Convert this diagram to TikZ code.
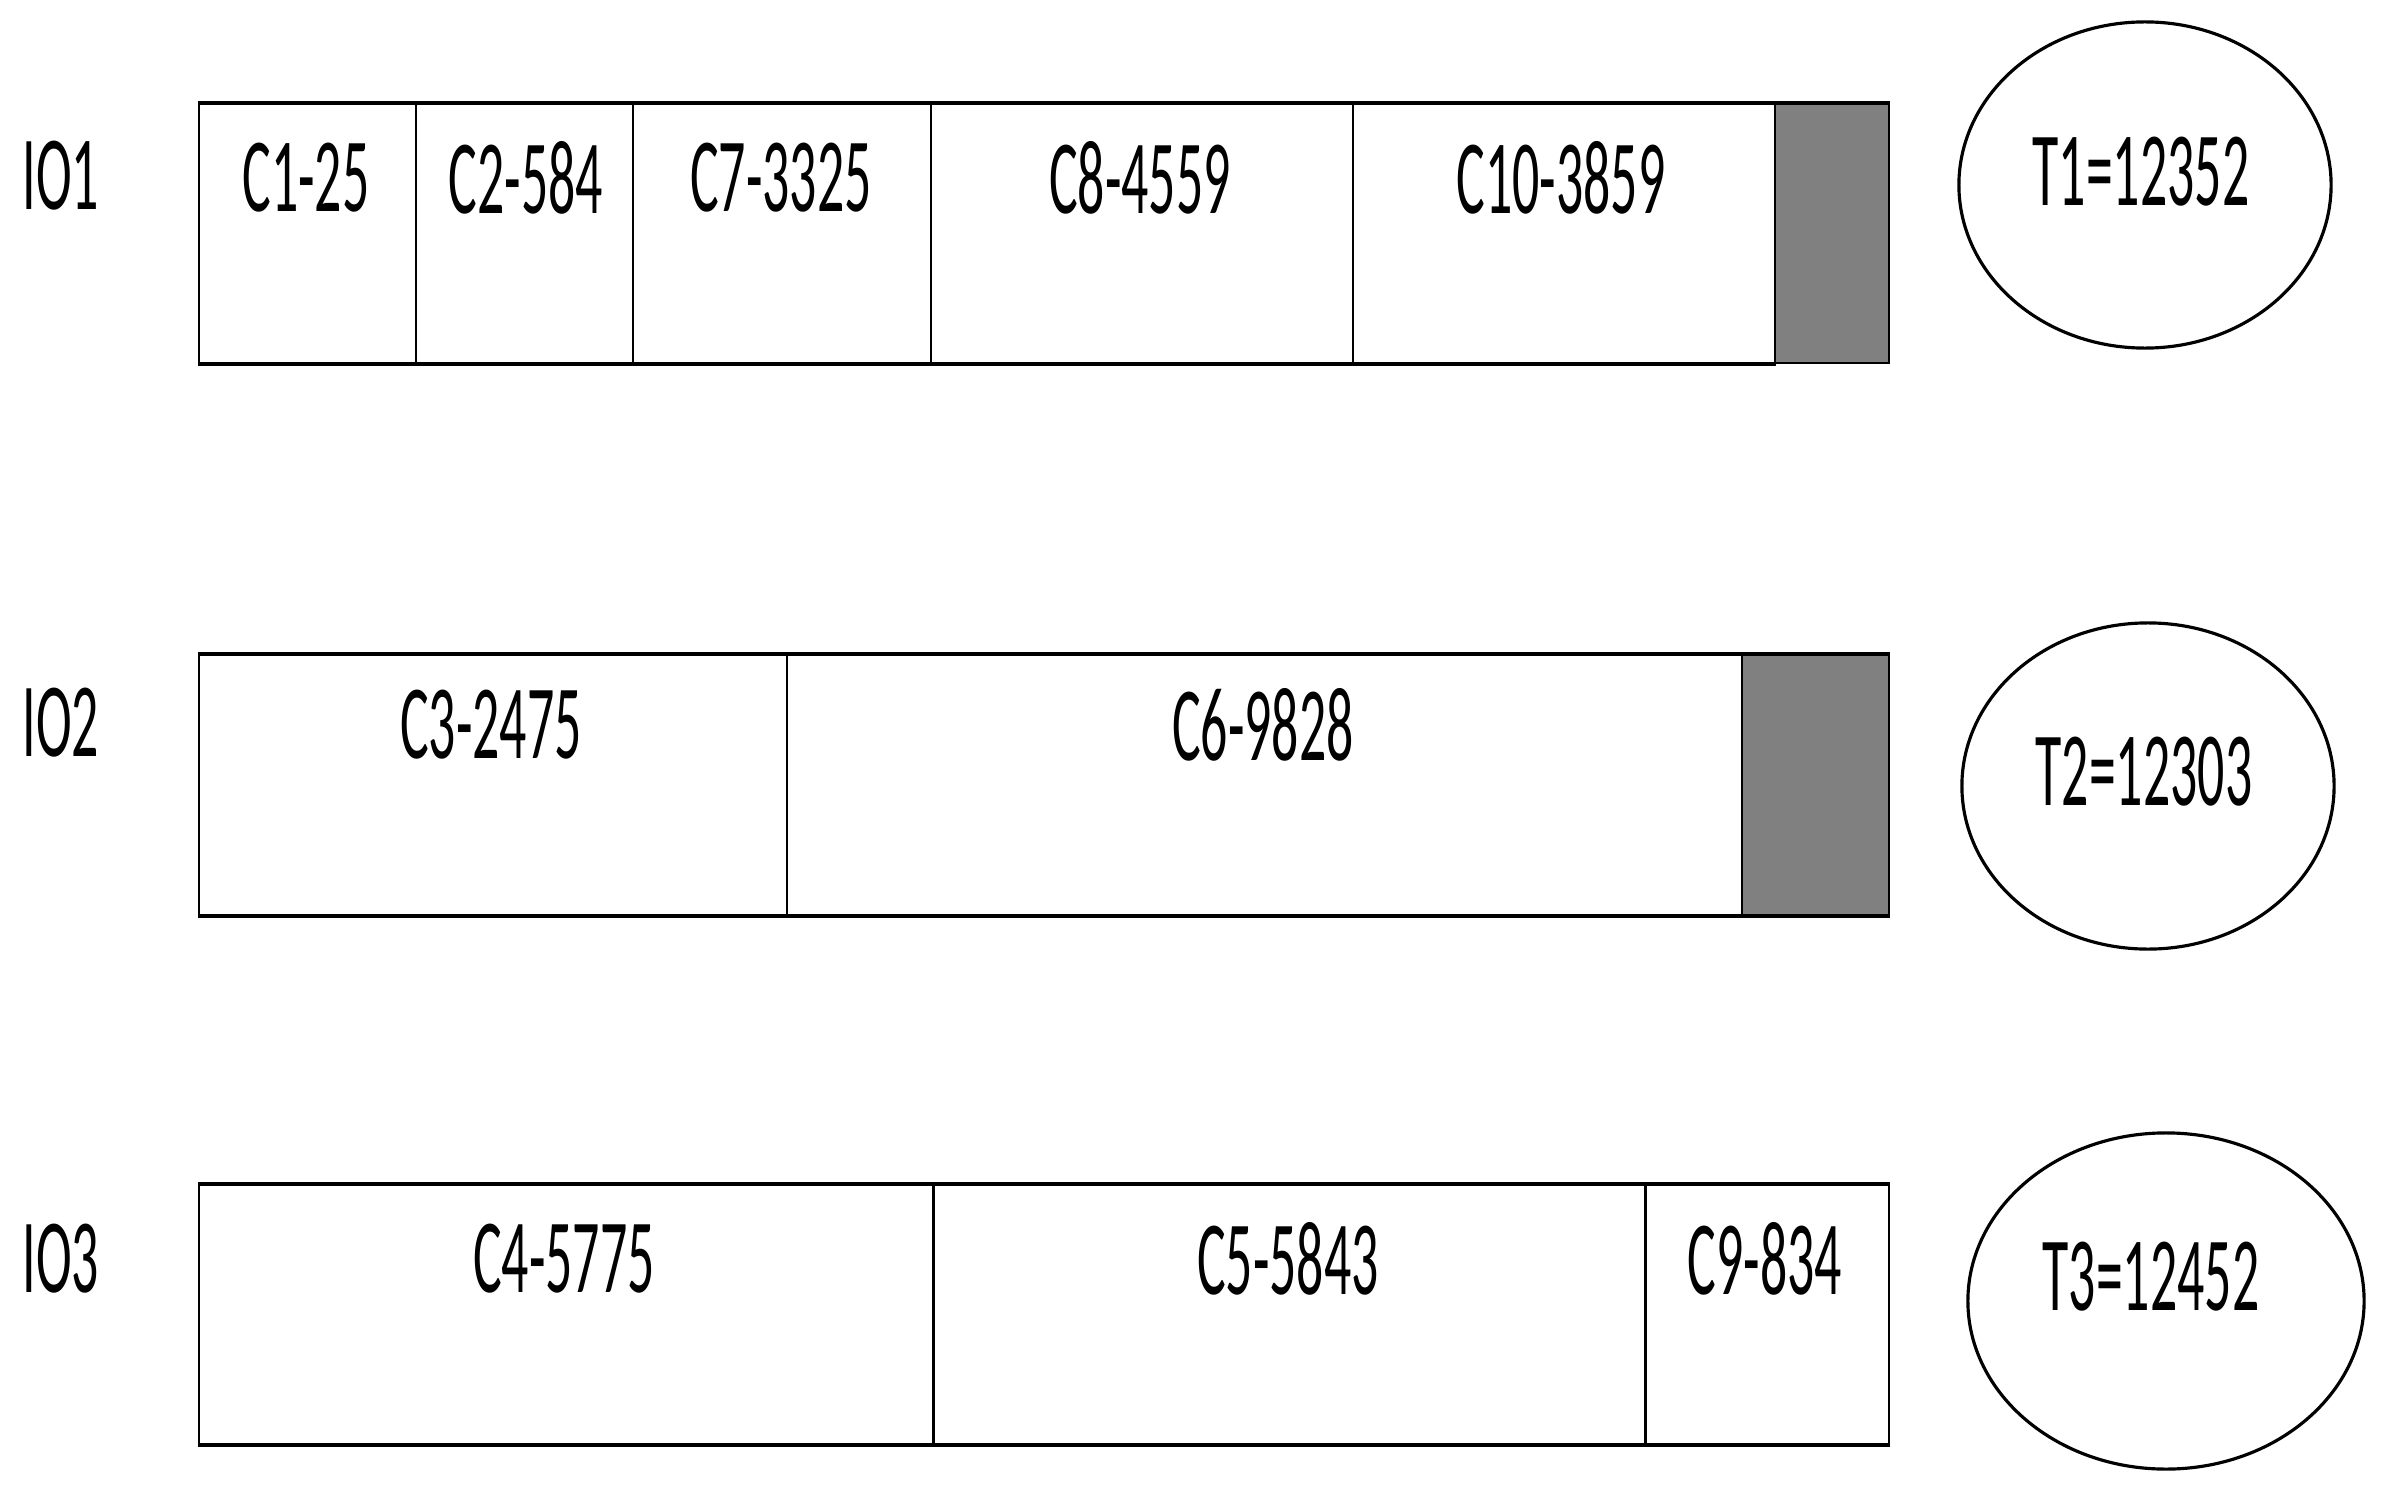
\documentclass[tikz,border=0pt]{standalone}
\usepackage{fontspec}
\setmainfont{Carlito}
\usetikzlibrary{shapes.geometric}
\definecolor{slotgray}{HTML}{808080}
\newcommand{\narrowtxt}[1]{\scalebox{0.51}[1]{\fontsize{30pt}{30pt}\selectfont #1}}
\tikzset{
  cell/.style={draw=black, line width=0.6pt, inner sep=0pt, anchor=north west},
  freecell/.style={cell, fill=slotgray},
  lbl/.style={inner sep=0pt, anchor=center},
  edge/.style={line width=1.2pt},
  total/.style={ellipse, draw=black, line width=0.9pt, inner sep=0pt}
}
\begin{document}
\begin{tikzpicture}[x=0.01cm, y=-0.01cm]
\useasboundingbox (0,0) rectangle (2384,1497);
% ---------- Row 1 ----------
\node[cell, minimum width=2.17cm, minimum height=2.59cm] (c1) at (198,103) {};
\node[cell, minimum width=2.17cm, minimum height=2.59cm] (c2) at (415,103) {};
\node[cell, minimum width=2.98cm, minimum height=2.59cm] (c7) at (632,103) {};
\node[cell, minimum width=4.22cm, minimum height=2.59cm] (c8) at (930,103) {};
\node[cell, minimum width=4.22cm, minimum height=2.59cm] (c10) at (1352,103) {};
\node[freecell, minimum width=1.14cm, minimum height=2.59cm] (g1) at (1774,103) {};
\draw[edge] (c1.north west) -- (g1.north east);
\draw[edge] (c1.south west) -- (c10.south east);
\node[lbl] (io1) at (61,176) {\narrowtxt{IO1}};
\node[lbl] (t-c1) at (306,178) {\narrowtxt{C1-25}};
\node[lbl] (t-c2) at (526,178) {\narrowtxt{C2-584}};
\node[lbl] (t-c7) at (781,178) {\narrowtxt{C7-3325}};
\node[lbl] (t-c8) at (1140,178) {\narrowtxt{C8-4559}};
\node[lbl] (t-c10) at (1561,178) {\narrowtxt{C10-3859}};
\node[total, minimum width=3.72cm, minimum height=3.26cm] (e1) at (2145,185) {};
\node[lbl] (t1) at (2141,172) {\narrowtxt{T1=12352}};
% ---------- Row 2 ----------
\node[cell, minimum width=5.88cm, minimum height=2.60cm] (c3) at (198,654) {};
\node[cell, minimum width=9.55cm, minimum height=2.60cm] (c6) at (786,654) {};
\node[freecell, minimum width=1.47cm, minimum height=2.60cm] (g2) at (1741,654) {};
\draw[edge] (c3.north west) -- (g2.north east);
\draw[edge] (c3.south west) -- (g2.south east);
\node[lbl] (io2) at (61,723) {\narrowtxt{IO2}};
\node[lbl] (t-c3) at (491,725) {\narrowtxt{C3-2475}};
\node[lbl] (t-c6) at (1263,725) {\narrowtxt{C6-9828}};
\node[total, minimum width=3.72cm, minimum height=3.26cm] (e2) at (2148,786) {};
\node[lbl] (t2) at (2144,772) {\narrowtxt{T2=12303}};
% ---------- Row 3 ----------
\node[cell, minimum width=7.34cm, minimum height=2.59cm] (c4) at (198,1184) {};
\node[cell, minimum width=7.12cm, minimum height=2.59cm] (c5) at (932,1184) {};
\node[cell, minimum width=2.44cm, minimum height=2.59cm] (c9) at (1644,1184) {};
\draw[edge] (c4.north west) -- (c9.north east);
\draw[edge] (c4.south west) -- (c9.south east);
\node[lbl] (io3) at (61,1259) {\narrowtxt{IO3}};
\node[lbl] (t-c4) at (564,1259) {\narrowtxt{C4-5775}};
\node[lbl] (t-c5) at (1288,1259) {\narrowtxt{C5-5843}};
\node[lbl] (t-c9) at (1765,1259) {\narrowtxt{C9-834}};
\node[total, minimum width=3.96cm, minimum height=3.36cm] (e3) at (2166,1301) {};
\node[lbl] (t3) at (2151,1277) {\narrowtxt{T3=12452}};
\end{tikzpicture}
\end{document}
